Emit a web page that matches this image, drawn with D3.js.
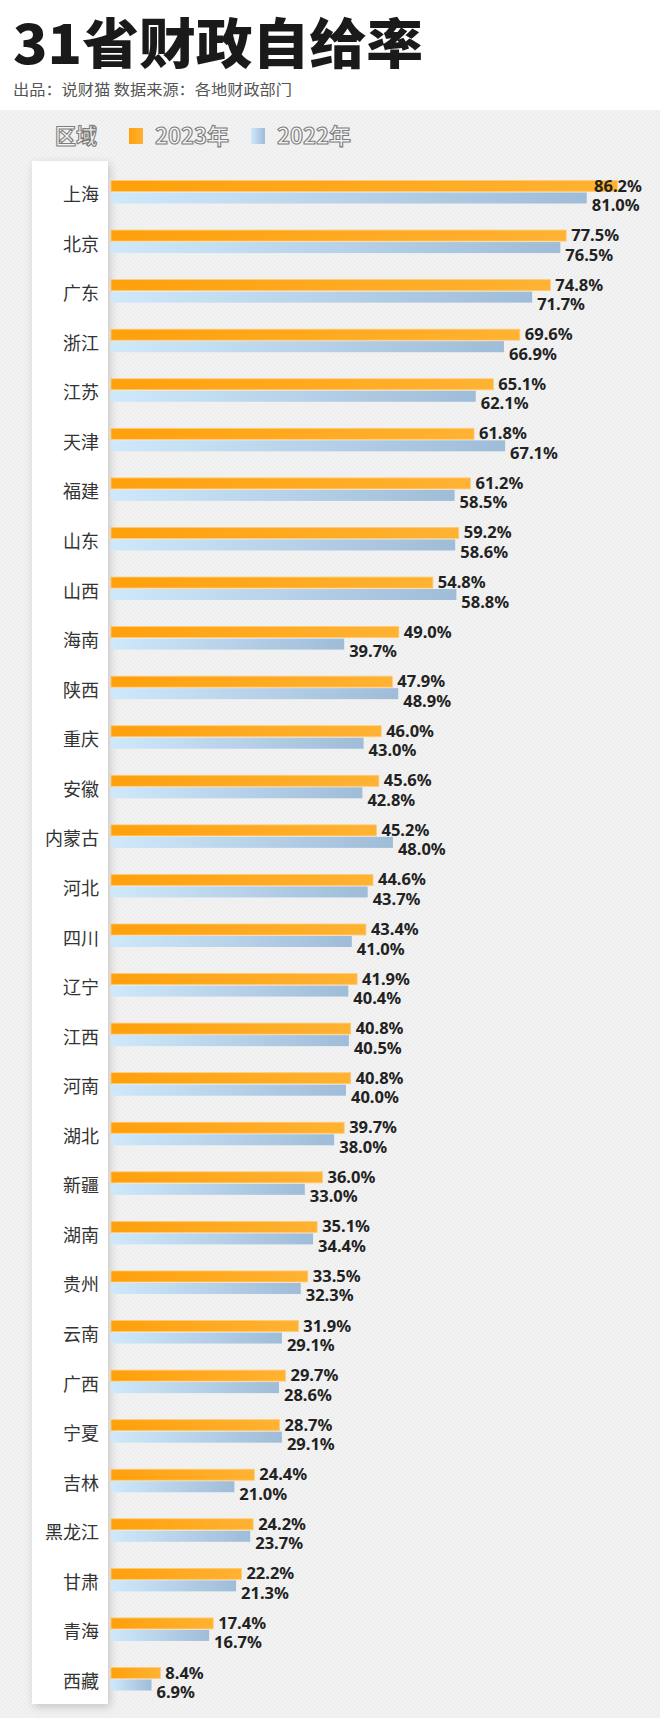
<!DOCTYPE html>
<html><head><meta charset="utf-8">
<script src="https://cdn.jsdelivr.net/npm/d3@7"></script>
<style>html,body{margin:0;padding:0;background:#fff;}svg{display:block;}</style>
</head><body>
<script>
const provinces = ["上海","北京","广东","浙江","江苏","天津","福建","山东","山西","海南","陕西","重庆","安徽","内蒙古","河北","四川","辽宁","江西","河南","湖北","新疆","湖南","贵州","云南","广西","宁夏","吉林","黑龙江","甘肃","青海","西藏"];
const v2023 = [86.2,77.5,74.8,69.6,65.1,61.8,61.2,59.2,54.8,49.0,47.9,46.0,45.6,45.2,44.6,43.4,41.9,40.8,40.8,39.7,36.0,35.1,33.5,31.9,29.7,28.7,24.4,24.2,22.2,17.4,8.4];
const v2022 = [81.0,76.5,71.7,66.9,62.1,67.1,58.5,58.6,58.8,39.7,48.9,43.0,42.8,48.0,43.7,41.0,40.4,40.5,40.0,38.0,33.0,34.4,32.3,29.1,28.6,29.1,21.0,23.7,21.3,16.7,6.9];
const seriesNames = ["2023年","2022年"];
const title = "31省财政自给率";
const subtitle = "出品：说财猫 数据来源：各地财政部门";
const legendTitle = "区域";

const W = 660, H = 1718;
const svg = d3.select("body").append("svg").attr("width", W).attr("height", H);
const defs = svg.append("defs");

const pat = defs.append("pattern").attr("id","tex").attr("width",4).attr("height",4)
  .attr("patternUnits","userSpaceOnUse");
pat.append("rect").attr("width",4).attr("height",4).attr("fill","#f2f2f2");
pat.append("path").attr("d","M0,4 L4,0").attr("stroke","#ebebeb").attr("stroke-width",1);

const gO = defs.append("linearGradient").attr("id","gO");
gO.append("stop").attr("offset","0%").attr("stop-color","#FFA00C");
gO.append("stop").attr("offset","100%").attr("stop-color","#FFB233");
const gB = defs.append("linearGradient").attr("id","gB");
gB.append("stop").attr("offset","0%").attr("stop-color","#CFE8FA");
gB.append("stop").attr("offset","100%").attr("stop-color","#9FBCD8");

const sh = defs.append("filter").attr("id","sh").attr("x","-30%").attr("y","-5%").attr("width","160%").attr("height","110%");
sh.append("feDropShadow").attr("dx",2).attr("dy",3).attr("stdDeviation",4).attr("flood-color","#000").attr("flood-opacity",0.18);

svg.append("rect").attr("width",W).attr("height",H).attr("fill","#fff");
svg.append("rect").attr("y",110).attr("width",W).attr("height",H-110).attr("fill","url(#tex)");

svg.append("text").attr("x",13).attr("y",64).attr("font-family","'Noto Sans CJK SC'")
  .attr("font-weight",900).attr("font-size",54).attr("fill","#1a1a1a")
  .attr("textLength",410).attr("lengthAdjust","spacingAndGlyphs").text(title);
svg.append("text").attr("x",13).attr("y",95).attr("font-family","'Noto Sans CJK SC'")
  .attr("font-size",15).attr("fill","#555").attr("textLength",279)
  .attr("lengthAdjust","spacingAndGlyphs").text(subtitle);

// legend
const lg = svg.append("g").attr("font-family","'Noto Sans CJK SC'").attr("font-size",22)
  .attr("font-weight",700).attr("fill","#f5f5f5").attr("stroke","#7d7d7d").attr("stroke-width",1.1);
lg.append("text").attr("x",55).attr("y",144).attr("textLength",42).attr("lengthAdjust","spacingAndGlyphs").text(legendTitle);
const legX = [{sq:129, tx:155, fill:"url(#gO)"},{sq:251, tx:277, fill:"url(#gB)"}];
seriesNames.forEach((s,i)=>{
  svg.append("rect").attr("x",legX[i].sq).attr("y",128).attr("width",14).attr("height",16).attr("fill",legX[i].fill);
  lg.append("text").attr("x",legX[i].tx).attr("y",144).attr("textLength",74).attr("lengthAdjust","spacingAndGlyphs").text(s);
});

// panel
svg.append("rect").attr("x",32).attr("y",161).attr("width",76).attr("height",1543)
  .attr("fill","#fff").attr("filter","url(#sh)");

const x = d3.scaleLinear().domain([0, 86.2]).range([111, 617.3]);
const y = d3.scalePoint().domain(provinces).range([192, 1679]);

const rows = provinces.map((p,i)=>({p, a:v2023[i], b:v2022[i]}));
const g = svg.append("g");

g.selectAll(".lbl").data(rows).join("text")
  .attr("x",99).attr("y",d=>y(d.p)+1).attr("text-anchor","end").attr("dominant-baseline","central")
  .attr("font-family","'Noto Sans CJK SC'").attr("font-size",18).attr("fill","#333").text(d=>d.p);

g.selectAll(".bo").data(rows).join("rect")
  .attr("x",x(0)).attr("y",d=>y(d.p)-11.5).attr("width",d=>x(d.a)-x(0)).attr("height",11)
  .attr("fill","url(#gO)").attr("stroke","#FFCB70").attr("stroke-width",0.8);
g.selectAll(".bb").data(rows).join("rect")
  .attr("x",x(0)).attr("y",d=>y(d.p)+0.5).attr("width",d=>x(d.b)-x(0)).attr("height",11)
  .attr("fill","url(#gB)");

const fmt = d3.format(".1f");
const vl = g.append("g").attr("font-family","'Noto Sans', 'DejaVu Sans', sans-serif").attr("font-weight",700)
  .attr("font-size",16.5).attr("fill","#222");
vl.selectAll(".va").data(rows).join("text")
  .attr("x",d=>Math.min(x(d.a)+5, 594)).attr("y",d=>y(d.p)-7).attr("dominant-baseline","central")
  .text(d=>fmt(d.a)+"%");
vl.selectAll(".vb").data(rows).join("text")
  .attr("x",d=>Math.min(x(d.b)+5, 594)).attr("y",d=>y(d.p)+12.5).attr("dominant-baseline","central")
  .text(d=>fmt(d.b)+"%");
</script>
</body></html>
